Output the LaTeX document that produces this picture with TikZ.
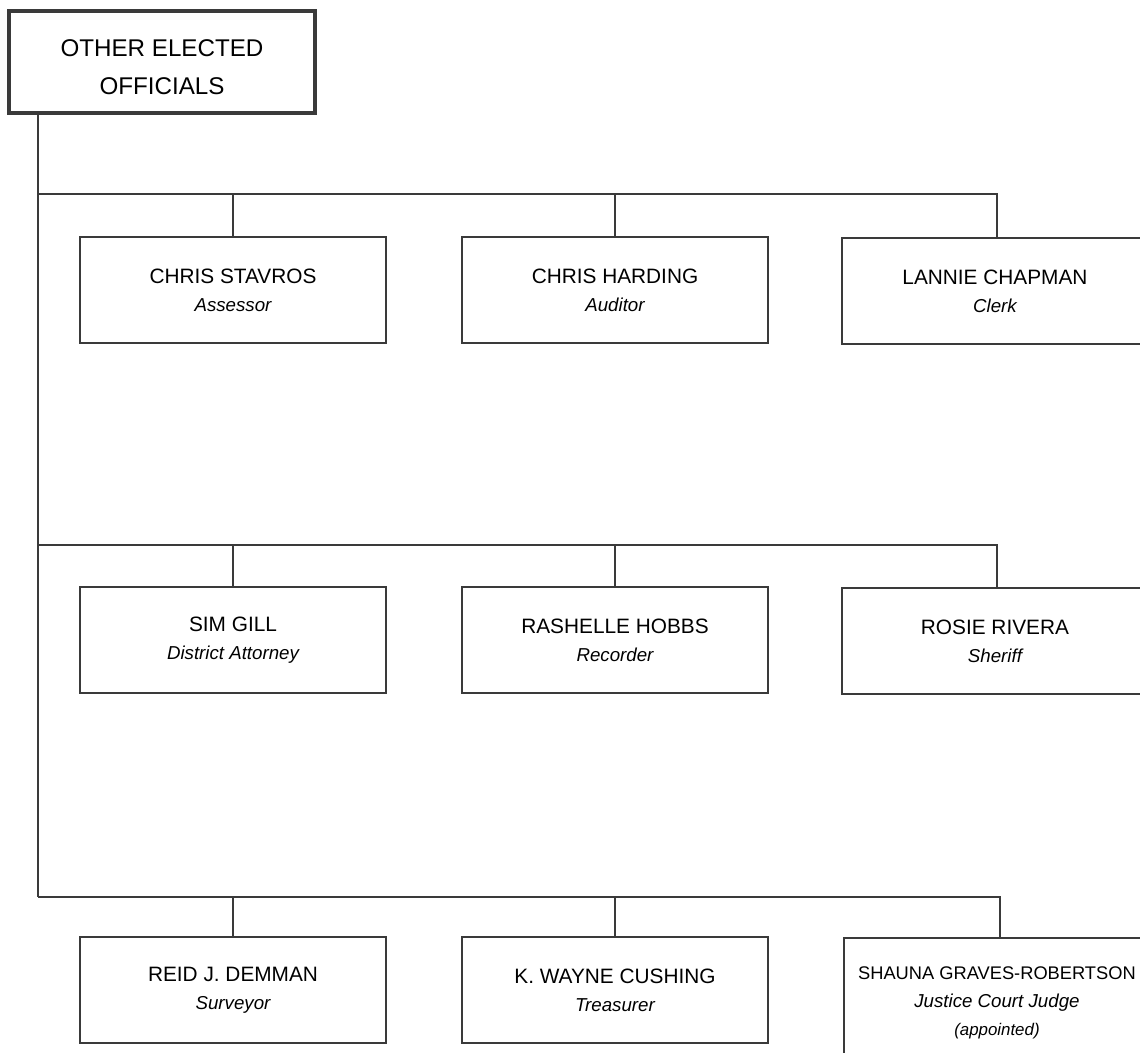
\documentclass[tikz,border=0pt]{standalone}
\usepackage{fontspec}
\setmainfont{Liberation Sans}
\usepackage{tikz}
\usetikzlibrary{positioning}

\definecolor{linegray}{HTML}{3A3A3A}

\begin{document}
\begin{tikzpicture}[x=0.025cm,y=-0.025cm,
  office/.style={draw=linegray,line width=1.3pt,fill=white,minimum width=7.65cm,minimum height=2.65cm,align=center,inner sep=0pt,font=\fontsize{14.8}{20}\selectfont},
  link/.style={draw=linegray,line width=1.3pt}]
\useasboundingbox (0,0) rectangle (1140,1053);
\clip (0,0) rectangle (1140,1053);

\node[draw=linegray,line width=2.6pt,minimum width=7.65cm,minimum height=2.55cm,align=center,font=\fontsize{17.2}{27}\selectfont] (top) at (162,62) {\rule{0pt}{19pt}OTHER ELECTED\\OFFICIALS};

% rows
\coordinate (r1) at (38,194);
\coordinate (r2) at (38,545);
\coordinate (r3) at (38,897);

\node[office] (assessor) at (233,290) {CHRIS STAVROS\\{\fontsize{13.3}{20}\selectfont\itshape Assessor}};
\node[office] (auditor) at (615,290) {CHRIS HARDING\\{\fontsize{13.3}{20}\selectfont\itshape Auditor}};
\node[office,anchor=north west] (clerk) at (841,237) {LANNIE CHAPMAN\\{\fontsize{13.3}{20}\selectfont\itshape Clerk}};

\node[office] (da) at (233,640) {SIM GILL\\{\fontsize{13.3}{20}\selectfont\itshape District Attorney}};
\node[office] (recorder) at (615,640) {RASHELLE HOBBS\\{\fontsize{13.3}{20}\selectfont\itshape Recorder}};
\node[office,anchor=north west] (sheriff) at (841,587) {ROSIE RIVERA\\{\fontsize{13.3}{20}\selectfont\itshape Sheriff}};

\node[office] (surveyor) at (233,990) {REID J. DEMMAN\\{\fontsize{13.3}{20}\selectfont\itshape Surveyor}};
\node[office] (treasurer) at (615,990) {K. WAYNE CUSHING\\{\fontsize{13.3}{20}\selectfont\itshape Treasurer}};
\node[office,anchor=north west,minimum height=3.25cm] (judge) at (843,937) {{\fontsize{13}{23.5}\selectfont SHAUNA GRAVES-ROBERTSON}\\{\fontsize{13.3}{15}\selectfont\itshape Justice Court Judge}\\{\fontsize{12}{15}\selectfont\itshape (appointed)}};

% connectors
\draw[link] (r1 |- top.south) -- (r3);
\draw[link] (r1) -| (clerk.north -| 997,0);
\draw[link] (r2) -| (sheriff.north -| 997,0);
\draw[link] (r3) -| (judge.north -| 1000,0);
\draw[link] (assessor.north) -- (assessor.north |- r1);
\draw[link] (auditor.north) -- (auditor.north |- r1);
\draw[link] (da.north) -- (da.north |- r2);
\draw[link] (recorder.north) -- (recorder.north |- r2);
\draw[link] (surveyor.north) -- (surveyor.north |- r3);
\draw[link] (treasurer.north) -- (treasurer.north |- r3);
\end{tikzpicture}
\end{document}
